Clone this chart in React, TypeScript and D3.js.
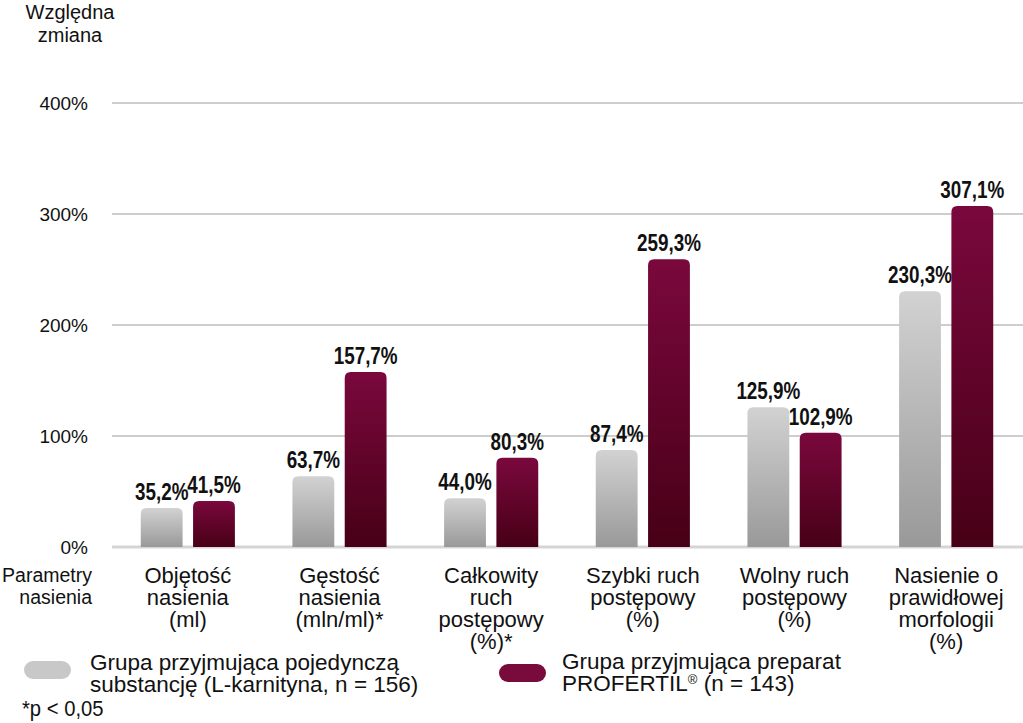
import * as d3 from 'd3';
import React from 'react';

const categories = [
  ['Objętość', 'nasienia', '(ml)'],
  ['Gęstość', 'nasienia', '(mln/ml)*'],
  ['Całkowity', 'ruch', 'postępowy', '(%)*'],
  ['Szybki ruch', 'postępowy', '(%)'],
  ['Wolny ruch', 'postępowy', '(%)'],
  ['Nasienie o', 'prawidłowej', 'morfologii', '(%)'],
];
const singleSubstance = [35.2, 63.7, 44.0, 87.4, 125.9, 230.3];
const profertil = [41.5, 157.7, 80.3, 259.3, 102.9, 307.1];
const yTicks = [0, 100, 200, 300, 400];

const fmt = (v: number) => v.toFixed(1).replace('.', ',') + '%';
const sans = "'Liberation Sans', Arial, sans-serif";

// condensed bold look: Liberation Sans squeezed horizontally
const Narrow = ({ x, y, children, anchor = 'middle', size = 23, bold = true, sx = 0.82 }: any) => (
  <text
    transform={`translate(${x},${y}) scale(${sx},1)`}
    textAnchor={anchor}
    fontFamily={sans}
    fontWeight={bold ? 'bold' : 'normal'}
    fontSize={size}
    fill="#111"
  >
    {children}
  </text>
);

const App = () => {
  const width = 1023;
  const height = 723;
  const x0 = d3.scaleBand<number>().domain(d3.range(categories.length)).range([112, 1022]).paddingInner(0);
  const x1 = d3.scaleBand<string>().domain(['a', 'b']).range([0, x0.bandwidth()]).paddingInner(0.2).paddingOuter(0.55);
  const y = d3.scaleLinear().domain([0, 400]).range([547, 103]);

  const series = [
    { key: 'a', values: singleSubstance, fill: 'url(#gradGrey)' },
    { key: 'b', values: profertil, fill: 'url(#gradRed)' },
  ];

  return (
    <svg width={width} height={height} style={{ position: 'absolute', left: 0, top: 0, background: '#fff' }}>
      <defs>
        <linearGradient id="gradGrey" x1="0" y1="0" x2="0" y2="1">
          <stop offset="0" stopColor="#d2d2d2" />
          <stop offset="1" stopColor="#999999" />
        </linearGradient>
        <linearGradient id="gradRed" x1="0" y1="0" x2="0" y2="1">
          <stop offset="0" stopColor="#7a083d" />
          <stop offset="1" stopColor="#470016" />
        </linearGradient>
      </defs>

      <text x={70} y={19} textAnchor="middle" fontFamily={sans} fontSize={20} fill="#111">Względna</text>
      <text x={70} y={42} textAnchor="middle" fontFamily={sans} fontSize={20} fill="#111">zmiana</text>

      {yTicks.map((t) => (
        <g key={t}>
          <line x1={112} x2={1023} y1={y(t)} y2={y(t)} stroke={t === 0 ? '#d5d5d5' : '#bdbdbd'} strokeWidth={t === 0 ? 3 : 1.5} />
          <text x={88} y={y(t) + 7} textAnchor="end" fontFamily={sans} fontSize={19} fill="#111">{t}%</text>
        </g>
      ))}

      {categories.map((c, i) => (
        <g key={i}>
          {series.map((s) => {
            const bx = (x0(i) as number) + (x1(s.key) as number);
            const bw = x1.bandwidth();
            const v = s.values[i];
            return (
              <g key={s.key}>
                <path
                  d={`M${bx},${y(0)} V${y(v) + 6} Q${bx},${y(v)} ${bx + 6},${y(v)} H${bx + bw - 6} Q${bx + bw},${y(v)} ${bx + bw},${y(v) + 6} V${y(0)} Z`}
                  fill={s.fill}
                />
                <Narrow x={bx + bw / 2} y={y(v) - 8}>{fmt(v)}</Narrow>
              </g>
            );
          })}
          {c.map((line, j) => (
            <text key={j} x={(x0(i) as number) + x0.bandwidth() / 2} y={583 + j * 22} textAnchor="middle" fontFamily={sans} fontSize={22} fill="#111">
              {line}
            </text>
          ))}
        </g>
      ))}

      <text x={92} y={582} textAnchor="end" fontFamily={sans} fontSize={19.5} fill="#111">Parametry</text>
      <text x={92} y={604} textAnchor="end" fontFamily={sans} fontSize={19.5} fill="#111">nasienia</text>

      <rect x={24} y={661} width={47} height={18} rx={9} fill="#c8c8c8" />
      <text x={90} y={670} fontFamily={sans} fontSize={22.5} fill="#111">Grupa przyjmująca pojedynczą</text>
      <text x={90} y={692} fontFamily={sans} fontSize={22.5} fill="#111">substancję (L-karnityna, n = 156)</text>

      <rect x={499} y={664} width={47} height={18} rx={9} fill="#780a3c" />
      <text x={562} y={669} fontFamily={sans} fontSize={22.5} fill="#111">Grupa przyjmująca preparat</text>
      <text x={562} y={691} fontFamily={sans} fontSize={22.5} fill="#111">
        PROFERTIL<tspan fontSize={13} dy={-7}>®</tspan><tspan dy={7}> (n = 143)</tspan>
      </text>

      <Narrow x={22} y={716} anchor="start" size={22} bold={false} sx={0.92}>*p &lt; 0,05</Narrow>
    </svg>
  );
};

export default App;
